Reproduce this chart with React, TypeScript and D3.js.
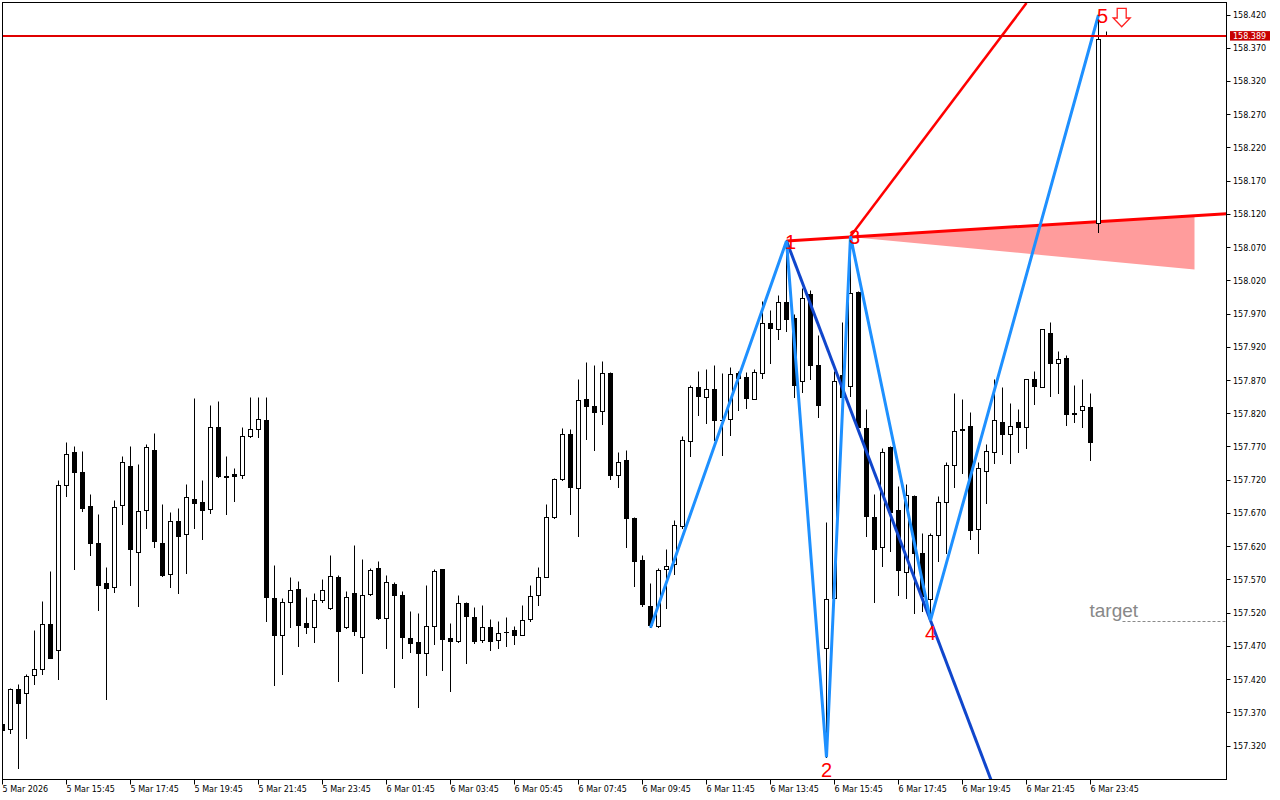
import * as d3 from 'd3'

// time axis labels, one every 8 bars (M15)
const timeLabels = [
  '5 Mar 2026', '5 Mar 15:45', '5 Mar 17:45', '5 Mar 19:45', '5 Mar 21:45', '5 Mar 23:45',
  '6 Mar 01:45', '6 Mar 03:45', '6 Mar 05:45', '6 Mar 07:45', '6 Mar 09:45', '6 Mar 11:45',
  '6 Mar 13:45', '6 Mar 15:45', '6 Mar 17:45', '6 Mar 19:45', '6 Mar 21:45', '6 Mar 23:45',
]

const opens = [
  157.352, 157.345, 157.405, 157.399, 157.426, 157.435, 157.503, 157.464, 157.712, 157.761,
  157.732, 157.680, 157.624, 157.564, 157.558, 157.682, 157.741, 157.611, 157.674, 157.765,
  157.625, 157.578, 157.658, 157.638, 157.691, 157.687, 157.676, 157.800, 157.726, 157.728,
  157.727, 157.785, 157.797, 157.810, 157.542, 157.487, 157.536, 157.556, 157.504, 157.499,
  157.539, 157.527, 157.574, 157.498, 157.550, 157.483, 157.548, 157.587, 157.512, 157.563,
  157.547, 157.482, 157.476, 157.459, 157.500, 157.585, 157.482, 157.478, 157.535, 157.514,
  157.479, 157.499, 157.479, 157.491, 157.494, 157.487, 157.511, 157.547, 157.574, 157.664,
  157.721, 157.789, 157.708, 157.842, 157.831, 157.824, 157.881, 157.727, 157.750, 157.662,
  157.599, 157.530, 157.500, 157.586, 157.593, 157.651, 157.778, 157.860, 157.845, 157.857,
  157.810, 157.812, 157.881, 157.875, 157.842, 157.881, 157.956, 157.947, 157.988, 157.963,
  157.868, 158.000, 157.893, 157.467, 157.542, 157.878, 157.861, 158.003, 157.798, 157.664,
  157.619, 157.769, 157.675, 157.581, 157.696, 157.610, 157.540, 157.637, 157.687, 157.742,
  157.797, 157.801, 157.646, 157.733, 157.762, 157.807, 157.789, 157.807, 157.800, 157.872,
  157.860, 157.941, 157.896, 157.903, 157.819, 157.825, 157.830, 158.106, 158.388,
]
const highs = [
  157.356, 157.407, 157.412, 157.427, 157.494, 157.537, 157.582, 157.719, 157.776, 157.770,
  157.763, 157.698, 157.668, 157.588, 157.689, 157.755, 157.771, 157.743, 157.774, 157.790,
  157.683, 157.671, 157.677, 157.714, 157.843, 157.719, 157.832, 157.839, 157.756, 157.738,
  157.799, 157.845, 157.844, 157.844, 157.591, 157.542, 157.574, 157.568, 157.543, 157.550,
  157.570, 157.606, 157.576, 157.552, 157.622, 157.601, 157.587, 157.598, 157.576, 157.566,
  157.552, 157.522, 157.519, 157.561, 157.586, 157.586, 157.504, 157.546, 157.536, 157.528,
  157.531, 157.510, 157.508, 157.513, 157.500, 157.531, 157.561, 157.589, 157.683, 157.722,
  157.798, 157.796, 157.872, 157.897, 157.893, 157.899, 157.882, 157.762, 157.765, 157.664,
  157.607, 157.564, 157.587, 157.616, 157.660, 157.786, 157.863, 157.883, 157.886, 157.893,
  157.881, 157.890, 157.883, 157.882, 157.886, 157.989, 157.976, 157.998, 158.080, 157.969,
  158.009, 158.005, 157.938, 157.657, 157.883, 157.958, 158.087, 158.004, 157.826, 157.699,
  157.768, 157.770, 157.710, 157.713, 157.697, 157.640, 157.640, 157.696, 157.747, 157.851,
  157.841, 157.822, 157.747, 157.774, 157.872, 157.860, 157.836, 157.826, 157.872, 157.884,
  157.947, 157.958, 157.914, 157.908, 157.863, 157.872, 157.850, 158.420, 158.395,
]
const lows = [
  157.340, 157.339, 157.286, 157.332, 157.412, 157.427, 157.451, 157.420, 157.695, 157.586,
  157.673, 157.606, 157.524, 157.390, 157.551, 157.654, 157.561, 157.530, 157.648, 157.618,
  157.575, 157.558, 157.549, 157.579, 157.647, 157.630, 157.670, 157.724, 157.668, 157.688,
  157.722, 157.784, 157.784, 157.508, 157.411, 157.427, 157.499, 157.469, 157.490, 157.475,
  157.536, 157.526, 157.417, 157.497, 157.487, 157.429, 157.547, 157.510, 157.466, 157.408,
  157.451, 157.460, 157.378, 157.426, 157.472, 157.433, 157.402, 157.475, 157.444, 157.474,
  157.475, 157.463, 157.466, 157.469, 157.472, 157.486, 157.507, 157.531, 157.573, 157.663,
  157.719, 157.669, 157.636, 157.781, 157.764, 157.804, 157.721, 157.709, 157.619, 157.560,
  157.530, 157.498, 157.499, 157.527, 157.578, 157.648, 157.755, 157.817, 157.806, 157.779,
  157.757, 157.787, 157.825, 157.828, 157.841, 157.873, 157.896, 157.932, 157.943, 157.844,
  157.852, 157.871, 157.815, 157.303, 157.541, 157.811, 157.846, 157.798, 157.635, 157.536,
  157.590, 157.612, 157.547, 157.542, 157.520, 157.522, 157.509, 157.597, 157.610, 157.709,
  157.730, 157.631, 157.610, 157.685, 157.745, 157.758, 157.745, 157.761, 157.767, 157.834,
  157.859, 157.846, 157.851, 157.802, 157.807, 157.800, 157.749, 158.092, 158.388,
]
const closes = [
  157.343, 157.405, 157.384, 157.425, 157.435, 157.503, 157.452, 157.712, 157.759, 157.731,
  157.677, 157.624, 157.561, 157.557, 157.679, 157.746, 157.615, 157.673, 157.769, 157.627,
  157.576, 157.658, 157.635, 157.694, 157.685, 157.674, 157.800, 157.725, 157.724, 157.725,
  157.786, 157.797, 157.812, 157.543, 157.487, 157.536, 157.554, 157.501, 157.499, 157.539,
  157.554, 157.575, 157.493, 157.544, 157.493, 157.547, 157.584, 157.512, 157.566, 157.546,
  157.484, 157.474, 157.459, 157.500, 157.583, 157.481, 157.477, 157.535, 157.515, 157.477,
  157.499, 157.478, 157.490, 157.491, 157.487, 157.509, 157.545, 157.574, 157.664, 157.721,
  157.789, 157.709, 157.840, 157.831, 157.822, 157.881, 157.727, 157.747, 157.663, 157.597,
  157.533, 157.501, 157.584, 157.590, 157.652, 157.780, 157.860, 157.846, 157.857, 157.810,
  157.810, 157.879, 157.873, 157.843, 157.882, 157.956, 157.948, 157.988, 157.962, 157.863,
  157.994, 157.892, 157.832, 157.541, 157.869, 157.845, 158.001, 157.799, 157.665, 157.616,
  157.762, 157.672, 157.584, 157.697, 157.610, 157.545, 157.637, 157.687, 157.742, 157.794,
  157.795, 157.644, 157.738, 157.763, 157.810, 157.788, 157.801, 157.800, 157.871, 157.861,
  157.946, 157.895, 157.902, 157.819, 157.820, 157.831, 157.776, 158.383, 158.389,
]

// pattern points 0..5 (bar index, price)
const patternIndex = [81, 98, 103, 106, 116, 137]
const patternPrice = [157.498, 158.080, 157.303, 158.087, 157.509, 158.420]
const patternNames = ['', '1', '2', '3', '4', '5']

// red trend line and ray, pink zone
const trendLine: [number, number][] = [[98, 158.080], [153, 158.121]]
const rayLine: [number, number][] = [[106, 158.087], [128, 158.438]]
const zone: [number, number][] = [[106, 158.086], [149, 158.119], [149, 158.037]]

const currentPrice = 158.389
const targetPrice = 157.507
const targetStart = 140

const priceTicks = d3.range(23).map((i) => +(157.32 + i * 0.05).toFixed(3))

const W = 1280
const H = 800
const left = 2.5
const top = 2.5
const right = 1226.5
const bottom = 779.5
const axisFont = 'DejaVu Sans, sans-serif'

export default function App() {
  const x = d3.scaleLinear().domain([0, 1]).range([2.5, 10.5])
  const y = d3.scaleLinear().domain([157.32, 158.42]).range([746, 15])
  const fmt = d3.format('.3f')
  const crisp = (v: number) => Math.round(v - 0.5) + 0.5

  const line = d3
    .line<[number, number]>()
    .x((d) => x(d[0]))
    .y((d) => y(d[1]))

  const pts: [number, number][] = patternIndex.map((k, i) => [k, patternPrice[i]])

  // dark line through points 1 and 4, extended downwards
  const slope = (pts[4][1] - pts[1][1]) / (pts[4][0] - pts[1][0])
  const darkLine: [number, number][] = [pts[1], [pts[1][0] + 40, pts[1][1] + slope * 40]]

  const candles = opens.map((o, i) => {
    const c = closes[i]
    const cx = x(i)
    const yo = y(o)
    const yc = y(c)
    const up = c >= o
    const yTop = crisp(Math.min(yo, yc))
    const yBot = crisp(Math.max(yo, yc))
    return (
      <g key={i}>
        <line x1={cx} x2={cx} y1={crisp(y(highs[i]))} y2={crisp(y(lows[i])) + 0.5} stroke="#000" strokeWidth={1} />
        {yBot - yTop < 1 ? (
          <line x1={cx - 2.5} x2={cx + 2.5} y1={yTop} y2={yTop} stroke="#000" strokeWidth={1} />
        ) : (
          <rect
            x={cx - 2}
            y={yTop}
            width={4}
            height={yBot - yTop}
            fill={up ? '#fff' : '#000'}
            stroke="#000"
            strokeWidth={1}
          />
        )}
      </g>
    )
  })

  const p5x = x(patternIndex[5])
  const p5y = y(patternPrice[5])
  const ax = p5x + 23.2
  const ay = p5y - 6.7
  const cy = Math.round(y(currentPrice))

  return (
    <svg
      width={W}
      height={H}
      style={{ position: 'absolute', left: 0, top: 0, display: 'block', background: '#fff' }}
    >
      <defs>
        <clipPath id="plot">
          <rect x={left} y={top} width={right - left} height={bottom - top} />
        </clipPath>
      </defs>

      <g clipPath="url(#plot)">
        {/* pink zone and red lines */}
        <path d={line(zone) + 'Z'} fill="#ff9c9c" stroke="none" />
        <path d={line(trendLine) ?? ''} fill="none" stroke="#ff0000" strokeWidth={3} />
        <path d={line(rayLine) ?? ''} fill="none" stroke="#ff0000" strokeWidth={2.5} />

        {/* target */}
        <line
          x1={x(targetStart)}
          x2={right}
          y1={crisp(y(targetPrice))}
          y2={crisp(y(targetPrice))}
          stroke="#8a8a8a"
          strokeWidth={1}
          strokeDasharray="3 2"
        />
        <text x={x(targetStart) - 33} y={y(targetPrice) - 5} fontFamily="Liberation Sans, Arial, sans-serif" fontSize={19} fill="#888">
          target
        </text>

        {candles}

        {/* pattern lines */}
        <path d={line(darkLine) ?? ''} fill="none" stroke="#1046cc" strokeWidth={3} />
        <path d={line(pts) ?? ''} fill="none" stroke="#1e90ff" strokeWidth={3} strokeLinejoin="miter" />
      </g>

      {/* current price line */}
      <rect x={3} y={cy - 1} width={right - 3} height={2} fill="#e00000" shapeRendering="crispEdges" />

      {/* point labels */}
      {pts.map((p, i) =>
        patternNames[i] ? (
          <text
            key={i}
            x={x(p[0]) + (i % 2 === 1 ? 4 : 0)}
            y={y(p[1]) + (i % 2 === 1 ? 1 : 13)}
            textAnchor="middle"
            dominantBaseline="central"
            fontFamily="Liberation Sans, Arial, sans-serif"
            fontSize={20}
            fill="#ff0000"
          >
            {patternNames[i]}
          </text>
        ) : null,
      )}

      {/* sell arrow */}
      <path
        d={`M${ax - 4.5},${ay} L${ax + 4.5},${ay} L${ax + 4.5},${ay + 9.7} L${ax + 8.5},${ay + 9.7} L${ax},${ay + 18.4} L${ax - 8.5},${ay + 9.7} L${ax - 4.5},${ay + 9.7} Z`}
        fill="#fff"
        stroke="#ff2020"
        strokeWidth={1.3}
      />

      {/* frame */}
      <rect x={left} y={top} width={right - left} height={bottom - top} fill="none" stroke="#000" strokeWidth={1} />

      {/* price axis */}
      {priceTicks.map((p) => (
        <g key={p}>
          <line x1={right} x2={right + 4} y1={crisp(y(p))} y2={crisp(y(p))} stroke="#000" />
          <text x={1233} y={y(p) + 3} fontFamily={axisFont} fontSize={8} fill="#000">
            {fmt(p)}
          </text>
        </g>
      ))}
      <rect x={1230} y={y(currentPrice) - 4.5} width={40} height={9.5} fill="#c80000" />
      <text x={1233} y={y(currentPrice) + 3} fontFamily={axisFont} fontSize={8} fill="#fff">
        {fmt(currentPrice)}
      </text>

      {/* time axis */}
      {timeLabels.map((t, i) => (
        <g key={t}>
          <line x1={x(i * 8)} x2={x(i * 8)} y1={bottom} y2={bottom + 5} stroke="#000" />
          <text x={x(i * 8)} y={792} fontFamily={axisFont} fontSize={8} fill="#000">
            {t}
          </text>
        </g>
      ))}
    </svg>
  )
}
